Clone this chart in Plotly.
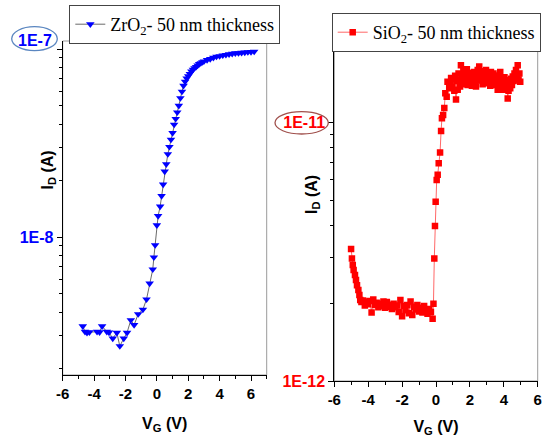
import plotly.graph_objects as go

W, H = 542, 437

# ---------------- data ----------------
zro2_vg = [-4.72, -4.58, -4.45, -4.30, -3.81, -3.65, -3.49, -3.19, -3.05, -2.81, -2.55, -2.36,
           -2.11, -1.90, -1.66, -1.45, -1.19, -0.89, -0.66, -0.46, -0.26, -0.19, -0.11, 0.0,
           0.08, 0.21, 0.3, 0.4, 0.5, 0.6, 0.7, 0.8, 0.9, 1.0, 1.1, 1.2, 1.3, 1.4, 1.5, 1.6,
           1.7, 1.8, 1.9, 2.0, 2.1, 2.2, 2.3, 2.4, 2.5, 2.6, 2.7, 2.8, 2.9, 3.0, 3.2, 3.4,
           3.6, 3.8, 4.0, 4.2, 4.4, 4.6, 4.8, 5.0, 5.2, 5.4, 5.6, 5.8, 6.0, 6.2]
zro2_id = [3.37e-9, 3.15e-9, 3.11e-9, 3.13e-9, 3.15e-9, 3.13e-9, 3.37e-9, 3.15e-9, 3.12e-9,
           2.90e-9, 3.11e-9, 2.64e-9, 2.90e-9, 3.11e-9, 3.63e-9, 3.42e-9, 3.91e-9, 4.13e-9,
           4.68e-9, 5.69e-9, 6.76e-9, 7.83e-9, 9.10e-9, 1.16e-8, 1.30e-8, 1.46e-8, 1.66e-8,
           1.91e-8, 2.24e-8, 2.45e-8, 2.77e-8, 3.03e-8, 3.31e-8, 3.59e-8, 3.98e-8, 4.27e-8,
           4.62e-8, 5.01e-8, 5.50e-8, 5.96e-8, 6.40e-8, 6.73e-8, 7.00e-8, 7.19e-8, 7.41e-8,
           7.62e-8, 7.80e-8, 7.94e-8, 8.07e-8, 8.20e-8, 8.36e-8, 8.45e-8, 8.55e-8, 8.63e-8,
           8.77e-8, 8.89e-8, 9.02e-8, 9.14e-8, 9.20e-8, 9.29e-8, 9.35e-8, 9.42e-8, 9.48e-8,
           9.53e-8, 9.55e-8, 9.59e-8, 9.62e-8, 9.66e-8, 9.68e-8, 9.72e-8]

sio2_vg = [-5.01, -4.96, -4.91, -4.86, -4.78, -4.72, -4.66, -4.58, -4.52, -4.47,
           -4.4, -4.3, -4.2, -4.1, -4.0, -3.9, -3.8, -3.7, -3.6, -3.5, -3.4, -3.3, -3.2,
           -3.1, -3.0, -2.9, -2.8, -2.7, -2.6, -2.5, -2.4, -2.3, -2.2, -2.1, -2.0, -1.9,
           -1.8, -1.7, -1.6, -1.5, -1.4, -1.3, -1.2, -1.1, -1.0, -0.9, -0.8, -0.7, -0.6,
           -0.5, -0.4, -0.3, -0.2, -0.15, -0.10, -0.06, -0.02, 0.04, 0.10, 0.16, 0.24,
           0.30, 0.35, 0.42, 0.49, 0.55, 0.63, 0.68, 0.78, 0.84, 0.89, 0.95, 1.02, 1.08,
           1.13, 1.18, 1.23, 1.28, 1.33, 1.37, 1.42, 1.47, 1.52, 1.57, 1.62, 1.67, 1.72,
           1.77, 1.82, 1.87, 1.92, 1.97, 2.02, 2.07, 2.12, 2.17, 2.22, 2.26, 2.31, 2.36,
           2.41, 2.46, 2.51, 2.55, 2.60, 2.65, 2.70, 2.75, 2.80, 2.85, 2.90, 2.95, 3.00,
           3.05, 3.10, 3.15, 3.20, 3.24, 3.29, 3.34, 3.39, 3.44, 3.49, 3.54, 3.59, 3.64,
           3.69, 3.74, 3.79, 3.84, 3.89, 3.94, 3.99, 4.04, 4.09, 4.14, 4.19, 4.23, 4.28,
           4.33, 4.38, 4.43, 4.48, 4.53, 4.58, 4.63, 4.68, 4.72, 4.77, 4.82, 4.87, 4.92,
           4.97]
sio2_id = [3.24e-12, 2.98e-12, 2.81e-12, 2.69e-12, 2.57e-12, 2.46e-12, 2.35e-12, 2.25e-12,
           2.15e-12, 2.06e-12,
           2.02e-12, 2.05e-12, 1.96e-12, 2.03e-12, 1.98e-12, 2.04e-12, 1.84e-12, 2.07e-12,
           1.97e-12, 2.01e-12, 1.93e-12, 1.99e-12, 1.95e-12, 2.03e-12, 1.92e-12, 2.02e-12,
           1.94e-12, 1.97e-12, 1.90e-12, 1.99e-12, 1.93e-12, 1.96e-12, 1.85e-12, 2.06e-12,
           1.78e-12, 1.95e-12, 1.88e-12, 1.97e-12, 1.83e-12, 2.03e-12, 1.80e-12, 1.94e-12,
           1.89e-12, 1.97e-12, 1.86e-12, 1.92e-12, 1.84e-12, 1.95e-12, 1.87e-12, 1.82e-12,
           1.90e-12, 1.85e-12, 1.74e-12, 1.99e-12, 2.98e-12, 3.98e-12, 4.94e-12, 6.00e-12,
           6.28e-12, 6.97e-12, 7.66e-12, 9.29e-12, 1.04e-11, 1.07e-11, 1.14e-11, 1.30e-11,
           1.26e-11, 1.44e-11, 1.36e-11, 1.42e-11, 1.49e-11, 1.38e-11, 1.47e-11, 1.33e-11,
           1.52e-11, 1.23e-11, 1.45e-11, 1.34e-11, 1.55e-11, 1.46e-11, 1.38e-11, 1.67e-11,
           1.50e-11, 1.41e-11, 1.58e-11, 1.53e-11, 1.44e-11, 1.50e-11, 1.61e-11, 1.40e-11,
           1.52e-11, 1.45e-11, 1.56e-11, 1.49e-11, 1.39e-11, 1.53e-11, 1.47e-11, 1.57e-11,
           1.44e-11, 1.38e-11, 1.51e-11, 1.60e-11, 1.46e-11, 1.65e-11, 1.52e-11, 1.46e-11,
           1.58e-11, 1.41e-11, 1.50e-11, 1.55e-11, 1.47e-11, 1.60e-11, 1.44e-11, 1.42e-11,
           1.53e-11, 1.48e-11, 1.39e-11, 1.57e-11, 1.50e-11, 1.45e-11, 1.55e-11, 1.46e-11,
           1.52e-11, 1.40e-11, 1.48e-11, 1.34e-11, 1.45e-11, 1.52e-11, 1.57e-11, 1.43e-11,
           1.38e-11, 1.34e-11, 1.45e-11, 1.50e-11, 1.41e-11, 1.37e-11, 1.46e-11, 1.24e-11,
           1.33e-11, 1.42e-11, 1.36e-11, 1.48e-11, 1.40e-11, 1.51e-11, 1.45e-11, 1.55e-11,
           1.49e-11, 1.60e-11, 1.52e-11, 1.67e-11, 1.47e-11, 1.55e-11, 1.44e-11]

x_ticks = [-6, -4, -2, 0, 2, 4, 6]
x_ticklabels = ["-6", "-4", "-2", "0", "2", "4", "6"]
zro2_yticks = [1e-8, 1e-7]
zro2_yticklabels = ["1E-8", " "]
zro2_yminor = [2e-9, 3e-9, 4e-9, 5e-9, 6e-9, 7e-9, 8e-9, 9e-9,
               2e-8, 3e-8, 4e-8, 5e-8, 6e-8, 7e-8, 8e-8, 9e-8]
sio2_yticks = [1e-12, 1e-11]
sio2_yticklabels = ["1E-12", "1E-11"]
sio2_yminor = [2e-12, 3e-12, 4e-12, 5e-12, 6e-12, 7e-12, 8e-12, 9e-12, 2e-11]

BLUE = "#0000ff"
RED = "#ff0000"
SANS = "Liberation Sans"
SERIF = "Liberation Serif"

def px(x):
    return x / W

def py(y):
    return 1 - y / H

fig = go.Figure()
fig.add_trace(go.Scatter(
    x=zro2_vg, y=zro2_id, mode="lines+markers", name="ZrO<sub>2</sub>- 50 nm thickness",
    line=dict(color="#444444", width=0.8),
    marker=dict(symbol="triangle-down", size=7.5, color=BLUE, line=dict(width=0)),
    xaxis="x", yaxis="y", legend="legend"))
fig.add_trace(go.Scatter(
    x=sio2_vg, y=sio2_id, mode="lines+markers", name="SiO<sub>2</sub>- 50 nm thickness",
    line=dict(color=RED, width=0.6),
    marker=dict(symbol="square", size=6.5, color=RED, line=dict(width=0)),
    xaxis="x2", yaxis="y2", legend="legend2"))

tickfont_x = dict(family=SANS, size=15, color="black", weight="bold")

def xaxis_cfg(dom, rng, anchor):
    return dict(domain=dom, range=rng, anchor=anchor, tickvals=x_ticks, ticktext=x_ticklabels,
                automargin=False,
                ticks="outside", ticklen=5, tickwidth=1, tickcolor="black",
                showline=True, linecolor="black", linewidth=1, showgrid=False, zeroline=False,
                tickfont=tickfont_x,
                minor=dict(dtick=1, tick0=0, ticks="outside", ticklen=3, tickcolor="black",
                           showgrid=False),
                title=dict(text="V<sub>G</sub> (V)", standoff=16,
                           font=dict(family=SANS, size=16, color="black", weight="bold")))

def yaxis_cfg(dom, rng, anchor, tv, tt, minor, color):
    return dict(domain=dom, type="log", range=rng, anchor=anchor, tickvals=tv, ticktext=tt,
                automargin=False,
                ticks="outside", ticklen=5, tickwidth=1, tickcolor="black",
                showline=True, linecolor="black", linewidth=1, showgrid=False, zeroline=False,
                tickfont=dict(family=SANS, size=16, color=color, weight="bold"),
                minor=dict(tickvals=minor, ticks="outside", ticklen=3, tickcolor="black",
                           showgrid=False))

fig.update_layout(
    template="none",
    width=W, height=H, margin=dict(l=0, r=0, t=0, b=0, autoexpand=False),
    paper_bgcolor="white", plot_bgcolor="white",
    xaxis=xaxis_cfg([px(62.7), px(266.7)], [-6, 7], "y"),
    yaxis=yaxis_cfg([py(375), py(41)], [-8.732, -6.956], "x",
                    zro2_yticks, zro2_yticklabels, zro2_yminor, BLUE),
    xaxis2=xaxis_cfg([px(334.3), px(537.7)], [-6, 6], "y2"),
    yaxis2=yaxis_cfg([py(381), py(45.7)], [-12, -10.702], "x2",
                     sio2_yticks, sio2_yticklabels, sio2_yminor, RED),
    legend=dict(x=px(69.3), y=py(5), xanchor="left", yanchor="top",
                bordercolor="#444444", borderwidth=1, bgcolor="white",
                font=dict(family=SERIF, size=18, color="black"),
                itemwidth=30, tracegroupgap=0),
    legend2=dict(x=px(331.7), y=py(13), xanchor="left", yanchor="top",
                 bordercolor="#444444", borderwidth=1, bgcolor="white",
                 font=dict(family=SERIF, size=18, color="black"),
                 itemwidth=30, tracegroupgap=0),
    showlegend=True,
)

# light frame (top / right sides)
for xr, yr in (("x domain", "y domain"), ("x2 domain", "y2 domain")):
    fig.add_shape(type="rect", xref=xr, yref=yr, x0=0, x1=1, y0=0, y1=1,
                  line=dict(color="#9a9a9a", width=1), layer="below")

# y axis titles
fig.add_annotation(text="I<sub>D</sub> (A)", xref="paper", yref="paper",
                   x=px(36), y=py(170), textangle=-90, showarrow=False,
                   font=dict(family=SANS, size=16, color="black", weight="bold"))
fig.add_annotation(text="I<sub>D</sub> (A)", xref="paper", yref="paper",
                   x=px(312), y=py(195), textangle=-90, showarrow=False,
                   font=dict(family=SANS, size=16, color="black", weight="bold"))

# top decade label of the ZrO2 axis (raised above its tick, circled)
fig.add_annotation(text="1E-7", xref="paper", yref="y", x=px(54), y=-7, yshift=9,
                   xanchor="right", showarrow=False,
                   font=dict(family=SANS, size=16, color=BLUE, weight="bold"))
fig.add_shape(type="circle", xref="paper", yref="paper",
              x0=px(11.7), x1=px(57.3), y0=py(50.7), y1=py(26.7),
              line=dict(color="#5a86c0", width=1.3))
fig.add_shape(type="circle", xref="paper", yref="paper",
              x0=px(275), x1=px(328.3), y0=py(134), y1=py(111.7),
              line=dict(color="#a0504c", width=1.3))

fig.write_html("out.html")
